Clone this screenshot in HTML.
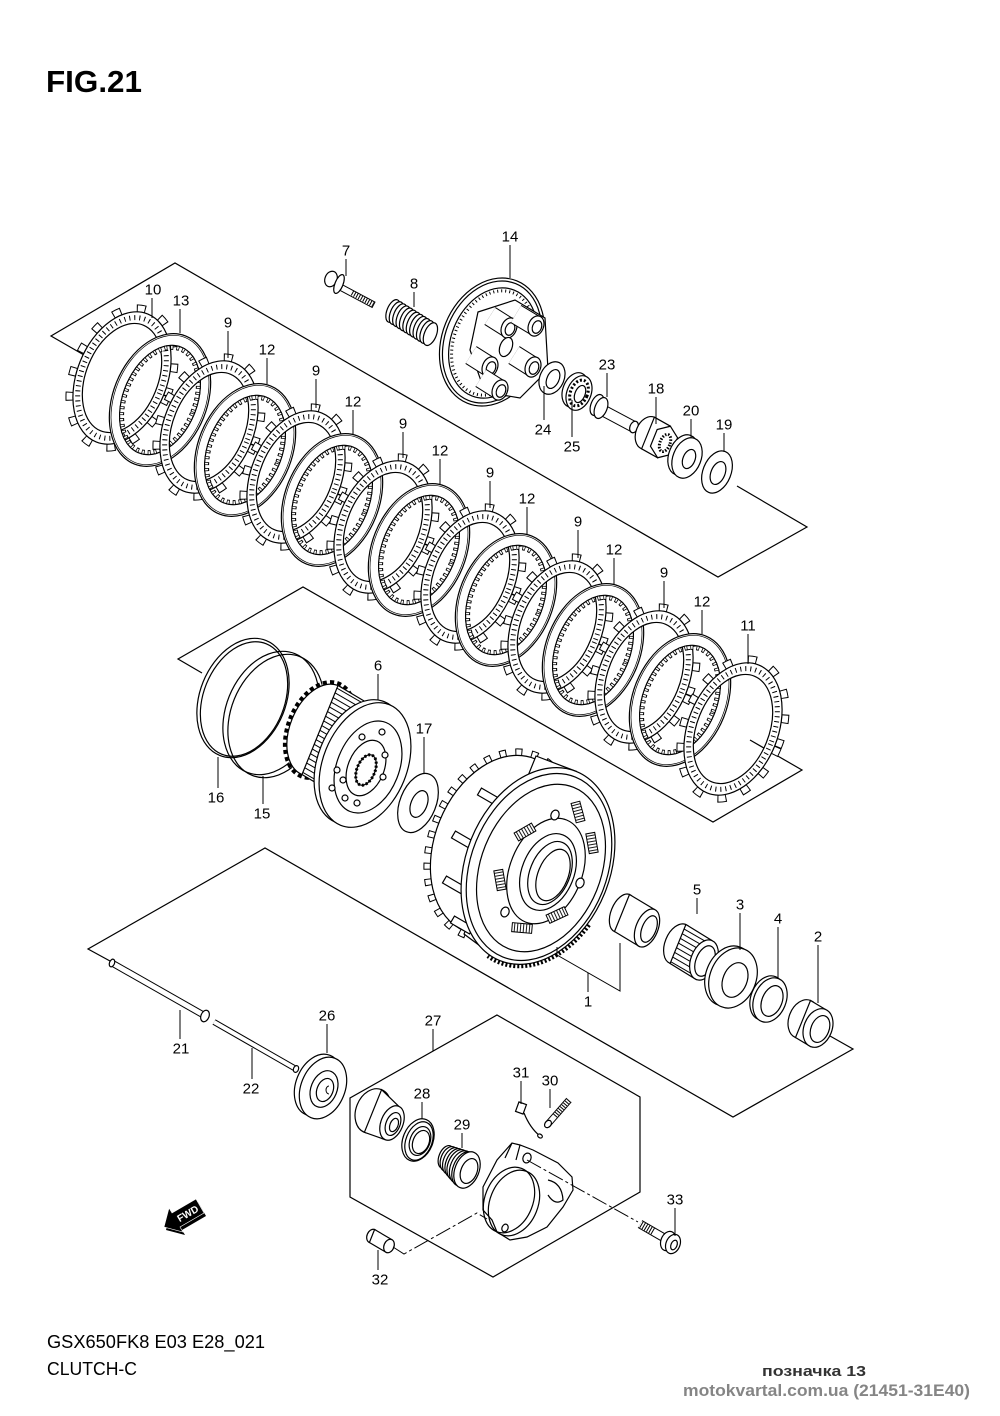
<!DOCTYPE html>
<html><head><meta charset="utf-8"><style>
html,body{margin:0;padding:0;background:#fff}
svg{display:block}
.s{fill:none;stroke:#000;stroke-width:1.2}
.w{fill:#fff;stroke:#000;stroke-width:1.2}
.l{fill:none;stroke:#000;stroke-width:1}
.t{font-family:"Liberation Sans",Arial,sans-serif;font-size:15px;fill:#000;text-anchor:middle}
</style></head><body>
<svg width="1000" height="1416" viewBox="0 0 1000 1416" xmlns="http://www.w3.org/2000/svg" xmlns:xlink="http://www.w3.org/1999/xlink">
<defs>
<pattern id="st" width="5" height="5" patternUnits="userSpaceOnUse" patternTransform="rotate(30)"><rect width="5" height="5" fill="#fff"/><line x1="0" y1="2.5" x2="5" y2="2.5" stroke="#000" stroke-width="1"/></pattern>
<pattern id="hat" width="3" height="3" patternUnits="userSpaceOnUse"><rect width="3" height="3" fill="#fff"/><line x1="1.5" y1="0" x2="1.5" y2="3" stroke="#000" stroke-width="0.9"/></pattern>
<g id="fib">
 <ellipse rx="48.5" ry="72.5" fill="none" stroke="#000" stroke-width="8" stroke-dasharray="9 16"/>
 <ellipse rx="48.5" ry="72.5" fill="none" stroke="#fff" stroke-width="6" stroke-dasharray="7 18" stroke-dashoffset="-1"/>
 <path d="M0,-69 A45,69 0 1,0 0,69 A45,69 0 1,0 0,-69 Z M0,-57 A36,57 0 1,0 0,57 A36,57 0 1,0 0,-57 Z" fill="#fff" fill-rule="evenodd" stroke="#000" stroke-width="1.2"/>
 <ellipse rx="40.5" ry="63" fill="none" stroke="#000" stroke-width="5" stroke-dasharray="1 4"/>
</g>
<g id="stl">
 <path d="M0,-69 A47,69 0 1,0 0,69 A47,69 0 1,0 0,-69 Z M0,-57 A37,57 0 1,0 0,57 A37,57 0 1,0 0,-57 Z" fill="#fff" fill-rule="evenodd" stroke="#000" stroke-width="1.2"/>
 <ellipse rx="45.3" ry="67.3" fill="none" stroke="#000" stroke-width="0.7"/>
 <ellipse rx="35" ry="55" fill="none" stroke="#000" stroke-width="5" stroke-dasharray="3 3"/>
 <ellipse rx="35" ry="55" fill="none" stroke="#fff" stroke-width="3" stroke-dasharray="1.5 4.5" stroke-dashoffset="-0.75"/>
</g>
</defs>

<!-- title -->
<text x="46" y="92" font-family="Liberation Sans, Arial, sans-serif" font-size="31" font-weight="bold" textLength="96" lengthAdjust="spacingAndGlyphs">FIG.21</text>

<!-- frame lines -->
<g class="s" stroke-linejoin="miter">
 <polyline points="84,355 51,336 175,263 718,577 807,527 737,486"/>
 <polyline points="202,673 178,659 303,587 713,822 802,770 750,740"/>
 <polyline points="110,961 88,949 265,848 733,1117 853,1049 830,1036"/>
 <polygon points="497,1015 640,1097 640,1192 493,1277 350,1197 350,1098"/>
</g>

<!-- clutch plates -->
<use href="#fib" xlink:href="#fib" transform="translate(122,378) rotate(22)"/>
<use href="#stl" xlink:href="#stl" transform="translate(160,400) rotate(22)"/>
<use href="#fib" xlink:href="#fib" transform="translate(209,427) rotate(22)"/>
<use href="#stl" xlink:href="#stl" transform="translate(245,450) rotate(22)"/>
<use href="#fib" xlink:href="#fib" transform="translate(296,477) rotate(22)"/>
<use href="#stl" xlink:href="#stl" transform="translate(332,500) rotate(22)"/>
<use href="#fib" xlink:href="#fib" transform="translate(383,527) rotate(22)"/>
<use href="#stl" xlink:href="#stl" transform="translate(419,550) rotate(22)"/>
<use href="#fib" xlink:href="#fib" transform="translate(470,577) rotate(22)"/>
<use href="#stl" xlink:href="#stl" transform="translate(506,600) rotate(22)"/>
<use href="#fib" xlink:href="#fib" transform="translate(557,627) rotate(22)"/>
<use href="#stl" xlink:href="#stl" transform="translate(593,650) rotate(22)"/>
<use href="#fib" xlink:href="#fib" transform="translate(644,677) rotate(22)"/>
<use href="#stl" xlink:href="#stl" transform="translate(680,700) rotate(22)"/>
<use href="#fib" xlink:href="#fib" transform="translate(733,729) rotate(22)"/>

<!-- bolt 7 -->
<g>
 <line x1="342" y1="288" x2="374" y2="305" stroke="#000" stroke-width="7"/>
 <line x1="342" y1="288" x2="373" y2="304.5" stroke="#fff" stroke-width="5"/>
 <line x1="352" y1="293" x2="373" y2="304.5" stroke="#000" stroke-width="5" stroke-dasharray="1 1.6"/>
 <ellipse class="w" transform="translate(331,279) rotate(22)" rx="6" ry="8"/>
 <ellipse class="w" transform="translate(339,284) rotate(22)" rx="4" ry="10"/>
</g>
<!-- spring 8 -->
<g class="w" stroke-width="1">
 <ellipse transform="translate(393,311) rotate(22)" rx="6" ry="12"/>
 <ellipse transform="translate(396.4,313.1) rotate(22)" rx="6" ry="12"/>
 <ellipse transform="translate(399.8,315.2) rotate(22)" rx="6" ry="12"/>
 <ellipse transform="translate(403.2,317.3) rotate(22)" rx="6" ry="12"/>
 <ellipse transform="translate(406.6,319.4) rotate(22)" rx="6" ry="12"/>
 <ellipse transform="translate(410,321.5) rotate(22)" rx="6" ry="12"/>
 <ellipse transform="translate(413.4,323.6) rotate(22)" rx="6" ry="12"/>
 <ellipse transform="translate(416.8,325.7) rotate(22)" rx="6" ry="12"/>
 <ellipse transform="translate(420.2,327.8) rotate(22)" rx="6" ry="12"/>
 <ellipse transform="translate(423.6,329.9) rotate(22)" rx="6" ry="12"/>
 <ellipse transform="translate(427,332) rotate(22)" rx="6" ry="12"/>
 <ellipse transform="translate(430.4,334.1) rotate(22)" rx="6" ry="12"/>
</g>

<!-- pressure plate 14 -->
<g>
 <ellipse class="w" transform="translate(492,342) rotate(22)" rx="50" ry="66"/>
 <ellipse class="s" stroke-width="0.7" transform="translate(492,342) rotate(22)" rx="47" ry="63"/>
 <ellipse class="s" transform="translate(493,343) rotate(22)" rx="42" ry="57"/>
 <ellipse fill="none" stroke="#000" stroke-width="3" stroke-dasharray="1 3" transform="translate(493,343) rotate(22)" rx="39" ry="54"/>
 <polygon class="w" points="478,312 515,300 545,318 548,370 520,398 485,392 470,350"/>
 <g stroke-linecap="butt">
  <line x1="490" y1="316" x2="509" y2="328" stroke="#000" stroke-width="21"/><line x1="490" y1="316" x2="509" y2="328" stroke="#fff" stroke-width="19"/>
  <ellipse class="w" transform="translate(509,328) rotate(22)" rx="7.5" ry="10.5"/><ellipse class="s" transform="translate(510,329) rotate(22)" rx="4.5" ry="6.5"/>
  <line x1="516" y1="314" x2="536" y2="326" stroke="#000" stroke-width="21"/><line x1="516" y1="314" x2="536" y2="326" stroke="#fff" stroke-width="19"/>
  <ellipse class="w" transform="translate(536,326) rotate(22)" rx="7.5" ry="10.5"/><ellipse class="s" transform="translate(537,327) rotate(22)" rx="4.5" ry="6.5"/>
  <ellipse class="w" transform="translate(506,347) rotate(22)" rx="6" ry="10"/>
  <line x1="471" y1="355" x2="490" y2="367" stroke="#000" stroke-width="21"/><line x1="471" y1="355" x2="490" y2="367" stroke="#fff" stroke-width="19"/>
  <ellipse class="w" transform="translate(490,367) rotate(22)" rx="7.5" ry="10.5"/><ellipse class="s" transform="translate(491,368) rotate(22)" rx="4.5" ry="6.5"/>
  <line x1="514" y1="355" x2="533" y2="367" stroke="#000" stroke-width="21"/><line x1="514" y1="355" x2="533" y2="367" stroke="#fff" stroke-width="19"/>
  <ellipse class="w" transform="translate(533,367) rotate(22)" rx="7.5" ry="10.5"/><ellipse class="s" transform="translate(534,368) rotate(22)" rx="4.5" ry="6.5"/>
  <line x1="481" y1="378" x2="500" y2="390" stroke="#000" stroke-width="21"/><line x1="481" y1="378" x2="500" y2="390" stroke="#fff" stroke-width="19"/>
  <ellipse class="w" transform="translate(500,390) rotate(22)" rx="7.5" ry="10.5"/><ellipse class="s" transform="translate(501,391) rotate(22)" rx="4.5" ry="6.5"/>
 </g>
</g>
<!-- 24 washer -->
<ellipse class="w" transform="translate(552,378) rotate(25)" rx="12" ry="17"/>
<ellipse class="s" transform="translate(553,379) rotate(25)" rx="6" ry="10"/>
<!-- 25 bearing -->
<ellipse class="w" transform="translate(575,390) rotate(22)" rx="12" ry="18"/>
<ellipse class="w" transform="translate(579,393) rotate(22)" rx="12" ry="18"/>
<ellipse fill="none" stroke="#000" stroke-width="3" stroke-dasharray="2 2" transform="translate(579,393) rotate(22)" rx="8.5" ry="13.5"/>
<ellipse class="w" transform="translate(580,394) rotate(22)" rx="5" ry="9"/>
<!-- 23 bolt -->
<line x1="604" y1="411" x2="634" y2="427" stroke="#000" stroke-width="12"/>
<line x1="604" y1="411" x2="634" y2="427" stroke="#fff" stroke-width="10"/>
<ellipse class="w" transform="translate(634,427) rotate(22)" rx="4" ry="6"/>
<ellipse class="w" transform="translate(597,405) rotate(22)" rx="6" ry="11"/>
<ellipse class="w" transform="translate(601,408) rotate(22)" rx="6" ry="11"/>
<!-- 18 nut -->
<ellipse class="w" transform="translate(648,433) rotate(22)" rx="12" ry="17"/>
<polygon class="w" points="654.4,417.2 670.4,426.2 657.6,457.8 641.6,448.8"/>
<polygon class="w" transform="translate(664,442) rotate(22)" points="0,-17 11,-9 11,9 0,17 -11,9 -11,-9"/>
<ellipse fill="none" stroke="#000" stroke-width="3" stroke-dasharray="1.5 1.5" transform="translate(665,443) rotate(22)" rx="5" ry="9"/>
<!-- 20 washer -->
<ellipse class="w" transform="translate(683,455) rotate(22)" rx="14" ry="21"/>
<ellipse class="w" transform="translate(687,458) rotate(22)" rx="14" ry="21"/>
<ellipse class="s" transform="translate(689,459) rotate(22)" rx="6" ry="10"/>
<!-- 19 washer -->
<ellipse class="w" transform="translate(717,472) rotate(22)" rx="14" ry="22"/>
<ellipse class="s" transform="translate(718,473) rotate(22)" rx="7" ry="12"/>

<!-- rings 16 and 15 -->
<ellipse class="s" transform="translate(243,698) rotate(22)" rx="43" ry="62"/>
<ellipse class="s" stroke-width="0.9" transform="translate(244,699) rotate(22)" rx="40.5" ry="59.5"/>
<ellipse class="s" transform="translate(271,713) rotate(22)" rx="45" ry="64"/>
<ellipse class="s" transform="translate(276,716) rotate(22)" rx="45" ry="64"/>

<!-- 6 hub -->
<g>
 <ellipse fill="#fff" stroke="#000" stroke-width="6" stroke-dasharray="4 3" transform="translate(320,730) rotate(22)" rx="31" ry="49"/>
 <ellipse class="w" transform="translate(320,730) rotate(22)" rx="30" ry="48"/>
 <polygon points="338,685.5 370,704.5 334,793.5 302,774.5" fill="url(#st)" stroke="#000" stroke-width="1.2"/>
 <ellipse class="w" transform="translate(360,762) rotate(22)" rx="42" ry="65"/>
 <ellipse class="w" transform="translate(365,765) rotate(22)" rx="42" ry="65"/>
 <ellipse class="s" transform="translate(368,767) rotate(22)" rx="31" ry="48"/>
 <ellipse class="s" transform="translate(366,768) rotate(22)" rx="18" ry="29"/>
 <ellipse class="w" transform="translate(366,770) rotate(22)" rx="9" ry="16"/>
 <ellipse fill="none" stroke="#000" stroke-width="3" stroke-dasharray="2 2" transform="translate(366,770) rotate(22)" rx="9" ry="16"/>
 <g class="w" stroke-width="0.9">
  <circle cx="382" cy="732" r="3"/><circle cx="362" cy="737" r="3"/><circle cx="385" cy="755" r="3"/>
  <circle cx="337" cy="770" r="3"/><circle cx="343" cy="780" r="3"/><circle cx="332" cy="788" r="3"/>
  <circle cx="345" cy="798" r="3"/><circle cx="357" cy="803" r="3"/><circle cx="383" cy="777" r="3"/>
 </g>
</g>
<!-- 17 washer -->
<ellipse class="w" transform="translate(418,803) rotate(22)" rx="18" ry="31"/>
<ellipse class="s" transform="translate(419,804) rotate(22)" rx="8" ry="14"/>

<!-- clutch housing -->
<g>
 <ellipse fill="none" stroke="#000" stroke-width="8" stroke-dasharray="7 9" transform="translate(500,845) rotate(22)" rx="68" ry="96"/>
 <ellipse fill="none" stroke="#fff" stroke-width="6" stroke-dasharray="5 11" stroke-dashoffset="-1" transform="translate(500,845) rotate(22)" rx="68" ry="96"/>
 <ellipse class="w" transform="translate(500,845) rotate(22)" rx="65" ry="93"/>
 <polygon class="w" points="536,756 576.3,771.4 499.7,960.6 464,934"/>
 <g class="w" stroke-width="1">
  <rect x="-11" y="-4" width="22" height="8" transform="translate(489,797) rotate(30)"/>
  <rect x="-11" y="-4" width="22" height="8" transform="translate(463,840) rotate(30)"/>
  <rect x="-11" y="-4" width="22" height="8" transform="translate(454,885) rotate(30)"/>
  <rect x="-11" y="-4" width="22" height="8" transform="translate(462,925) rotate(30)"/>
 </g>
 <g transform="translate(538,866) rotate(22)">
  <path d="M69.5,35.6 A74,104 0 0,1 -12.85,102.4" fill="none" stroke="#000" stroke-width="4" stroke-dasharray="2 2"/>
 </g>
 <ellipse class="w" transform="translate(538,866) rotate(22)" rx="72" ry="102"/>
 <ellipse class="s" stroke-width="0.8" transform="translate(539,867) rotate(22)" rx="68" ry="97"/>
 <ellipse class="s" transform="translate(541,868) rotate(22)" rx="60" ry="87"/>
 <ellipse class="s" transform="translate(546,871) rotate(22)" rx="36" ry="55"/>
 <g fill="url(#hat)" stroke="#000" stroke-width="1">
  <rect x="-10" y="-4.5" width="20" height="9" transform="translate(525,832) rotate(-30)"/>
  <rect x="-10" y="-4.5" width="20" height="9" transform="translate(578,812) rotate(75)"/>
  <rect x="-10" y="-4.5" width="20" height="9" transform="translate(592,843) rotate(80)"/>
  <rect x="-10" y="-4.5" width="20" height="9" transform="translate(500,880) rotate(80)"/>
  <rect x="-10" y="-4.5" width="20" height="9" transform="translate(557,915) rotate(-25)"/>
  <rect x="-10" y="-4.5" width="20" height="9" transform="translate(522,928) rotate(5)"/>
 </g>
 <ellipse class="w" transform="translate(555,815) rotate(22)" rx="4" ry="5"/>
 <ellipse class="w" transform="translate(580,883) rotate(22)" rx="4" ry="5"/>
 <ellipse class="w" transform="translate(505,912) rotate(22)" rx="4" ry="5"/>
 <ellipse class="w" transform="translate(548,872) rotate(22)" rx="26" ry="40"/>
 <ellipse class="s" transform="translate(550,873) rotate(22)" rx="20" ry="33"/>
 <ellipse class="w" transform="translate(553,875) rotate(22)" rx="15" ry="27"/>
</g>
<!-- bracket 1 -->
<polyline class="l" points="557,947 557,955 620,991 620,943"/>

<!-- sleeve (1) -->
<ellipse class="w" transform="translate(622,913) rotate(22)" rx="11" ry="20"/>
<polygon class="w" points="629.5,894.5 654.5,909.5 639.5,946.5 614.5,931.5"/>
<ellipse class="w" transform="translate(647,928) rotate(22)" rx="11" ry="20"/>
<ellipse class="s" stroke-width="0.8" transform="translate(649,929) rotate(22)" rx="7" ry="14"/>
<!-- 5 needle bearing -->
<ellipse class="w" transform="translate(678,944) rotate(22)" rx="13" ry="21"/>
<polygon points="685.9,924.5 711.9,940.5 696.1,979.5 670.1,963.5" fill="url(#st)" stroke="#000" stroke-width="1.2"/>
<ellipse class="w" transform="translate(704,960) rotate(22)" rx="13" ry="21"/>
<ellipse class="w" transform="translate(705,961) rotate(22)" rx="9" ry="16"/>
<!-- 3 washer -->
<ellipse class="w" transform="translate(729,976) rotate(22)" rx="23" ry="31"/>
<ellipse class="w" transform="translate(733,978) rotate(22)" rx="23" ry="31"/>
<ellipse class="s" transform="translate(735,980) rotate(22)" rx="12" ry="18"/>
<!-- 4 washer -->
<ellipse class="w" transform="translate(767,998) rotate(22)" rx="16" ry="23"/>
<ellipse class="w" transform="translate(770,1000) rotate(22)" rx="16" ry="23"/>
<ellipse class="s" transform="translate(772,1001) rotate(22)" rx="10" ry="16"/>
<!-- 2 collar -->
<ellipse class="w" transform="translate(803,1019) rotate(22)" rx="14" ry="20"/>
<polygon class="w" points="810.5,1000.5 825.5,1009.5 810.5,1046.5 795.5,1037.5"/>
<ellipse class="w" transform="translate(818,1028) rotate(22)" rx="14" ry="20"/>
<ellipse class="s" stroke-width="0.8" transform="translate(820,1029) rotate(22)" rx="9" ry="14"/>

<!-- shafts 21, 22 -->
<line x1="112" y1="963" x2="207" y2="1017" stroke="#000" stroke-width="7"/>
<line x1="112" y1="963" x2="207" y2="1017" stroke="#fff" stroke-width="5"/>
<ellipse class="w" transform="translate(112,963) rotate(22)" rx="2.5" ry="4"/>
<ellipse class="w" transform="translate(205,1016) rotate(22)" rx="4" ry="6"/>
<line x1="214" y1="1022" x2="296" y2="1069" stroke="#000" stroke-width="6"/>
<line x1="214" y1="1022" x2="296" y2="1069" stroke="#fff" stroke-width="4"/>
<ellipse class="w" transform="translate(296,1069) rotate(22)" rx="2.5" ry="3.5"/>
<!-- 26 -->
<ellipse class="w" transform="translate(318,1085) rotate(22)" rx="22" ry="32"/>
<ellipse class="w" transform="translate(323,1088) rotate(22)" rx="22" ry="32"/>
<ellipse class="s" transform="translate(324,1089) rotate(22)" rx="13" ry="19"/>
<ellipse class="s" transform="translate(325,1090) rotate(22)" rx="8" ry="12"/>
<path class="l" d="M329,1086 A3,4 0 1,0 329,1094"/>

<!-- box 27 contents -->
<ellipse class="w" transform="translate(373,1111) rotate(22)" rx="17" ry="23"/>
<polygon class="w" points="381.6,1089.7 398.75,1106.3 385.25,1139.7 364.4,1132.3"/>
<ellipse class="w" transform="translate(392,1123) rotate(22)" rx="11" ry="18"/>
<ellipse class="s" transform="translate(393,1124) rotate(22)" rx="7" ry="12"/>
<ellipse class="s" transform="translate(394,1125) rotate(22)" rx="4" ry="7"/>
<!-- 28 -->
<ellipse class="w" transform="translate(418,1140) rotate(22)" rx="15" ry="22"/>
<ellipse class="s" transform="translate(419,1141) rotate(22)" rx="13" ry="20"/>
<ellipse class="w" transform="translate(420,1141) rotate(22)" rx="10" ry="15"/>
<ellipse class="s" transform="translate(421,1142) rotate(22)" rx="8" ry="12"/>
<!-- 29 boot -->
<g class="w" stroke-width="1">
 <ellipse transform="translate(446,1157) rotate(22)" rx="7" ry="12"/>
 <ellipse transform="translate(449,1159) rotate(22)" rx="8" ry="13"/>
 <ellipse transform="translate(452,1161) rotate(22)" rx="8.5" ry="14"/>
 <ellipse transform="translate(455,1163) rotate(22)" rx="9" ry="15"/>
 <ellipse transform="translate(458,1165) rotate(22)" rx="10" ry="16"/>
 <ellipse transform="translate(461,1167) rotate(22)" rx="10.5" ry="17"/>
 <ellipse transform="translate(464,1169) rotate(22)" rx="11" ry="18"/>
 <ellipse transform="translate(467,1170) rotate(22)" rx="12" ry="19"/>
 <ellipse transform="translate(469,1171) rotate(22)" rx="8" ry="13"/>
</g>
<!-- slave cylinder body -->
<path class="w" d="M483,1187 L497,1160 L512,1143 L520,1145 L533,1150 L558,1163 L572,1177 L573,1190 L563,1207 L547,1227 L527,1237 L510,1240 L497,1232 L492,1220 L483,1210 Z"/>
<ellipse class="s" transform="translate(509,1200) rotate(22)" rx="24" ry="34"/>
<ellipse class="s" transform="translate(514,1203) rotate(22)" rx="24" ry="34"/>
<path class="s" d="M548,1180 Q562,1183 563,1200 Q555,1206 548,1195"/>
<path class="s" d="M505,1158 L512,1143 M520,1145 L516,1160"/>
<ellipse class="w" transform="translate(527,1158) rotate(22)" rx="4" ry="5"/>
<ellipse class="w" transform="translate(505,1228) rotate(22)" rx="3" ry="4"/>
<!-- 31 clip -->
<rect class="w" x="-4" y="-5" width="8" height="10" transform="translate(521,1108) rotate(20)"/>
<path class="s" d="M524,1113 Q530,1128 540,1136" stroke-width="1.5"/>
<ellipse class="w" transform="translate(540,1136) rotate(30)" rx="2.5" ry="1.8"/>
<!-- 30 bleeder -->
<line x1="548" y1="1124" x2="569" y2="1100" stroke="#000" stroke-width="7"/>
<line x1="548" y1="1124" x2="569" y2="1100" stroke="#fff" stroke-width="5"/>
<line x1="555" y1="1116" x2="569" y2="1100" stroke="#000" stroke-width="5" stroke-dasharray="1 1.5"/>
<ellipse class="w" transform="translate(548,1124) rotate(40)" rx="3" ry="4"/>
<!-- 33 bolt -->
<line x1="640" y1="1224" x2="666" y2="1239" stroke="#000" stroke-width="9"/>
<line x1="640" y1="1224" x2="666" y2="1239" stroke="#fff" stroke-width="7"/>
<line x1="641" y1="1224.5" x2="654" y2="1232" stroke="#000" stroke-width="7" stroke-dasharray="1 1.6"/>
<ellipse class="w" transform="translate(668,1241) rotate(22)" rx="7" ry="10"/>
<ellipse class="w" transform="translate(673,1244) rotate(22)" rx="7" ry="10"/>
<ellipse class="s" transform="translate(674,1245) rotate(22)" rx="3" ry="5"/>
<!-- 32 dowel -->
<ellipse class="w" transform="translate(372,1236) rotate(22)" rx="5" ry="7"/>
<polygon class="w" points="374.6,1229.5 391.6,1239.5 386.4,1252.5 369.4,1242.5"/>
<ellipse class="w" transform="translate(389,1246) rotate(22)" rx="5" ry="7"/>
<!-- center lines -->
<polyline class="l" points="393,1247 404,1254 477,1213 487,1219" stroke-dasharray="16 3 3 3"/>
<line class="l" x1="527" y1="1160" x2="638" y2="1222" stroke-dasharray="16 3 3 3"/>

<!-- FWD arrow -->
<polygon points="166,1230 171,1211 174,1216 198,1202 206,1216 182,1230 185,1235" fill="#000"/>
<polygon points="164,1227 169,1208 172,1213 196,1199 204,1213 180,1227 183,1232" fill="#000" stroke="#fff" stroke-width="0.6"/>
<text x="188" y="1217" transform="rotate(-30 188 1214)" font-family="Liberation Sans, Arial, sans-serif" font-size="10" font-weight="bold" fill="#fff" text-anchor="middle">FWD</text>

<!-- leader lines -->
<g class="l">
 <line x1="346" y1="259" x2="346" y2="276"/><line x1="414" y1="292" x2="414" y2="307"/>
 <line x1="510" y1="245" x2="510" y2="278"/><line x1="152" y1="298" x2="152" y2="318"/>
 <line x1="180" y1="309" x2="180" y2="333"/>
 <line x1="228" y1="331" x2="228" y2="358"/><line x1="267" y1="358" x2="267" y2="384"/>
 <line x1="316" y1="379" x2="316" y2="408"/><line x1="353" y1="410" x2="353" y2="434"/>
 <line x1="403" y1="432" x2="403" y2="458"/><line x1="440" y1="459" x2="440" y2="484"/>
 <line x1="490" y1="481" x2="490" y2="508"/><line x1="527" y1="507" x2="527" y2="534"/>
 <line x1="578" y1="530" x2="578" y2="558"/><line x1="614" y1="558" x2="614" y2="584"/>
 <line x1="664" y1="581" x2="664" y2="608"/><line x1="702" y1="610" x2="702" y2="634"/>
 <line x1="748" y1="634" x2="748" y2="664"/>
 <line x1="607" y1="373" x2="607" y2="397"/><line x1="656" y1="397" x2="656" y2="424"/>
 <line x1="691" y1="419" x2="691" y2="438"/><line x1="724" y1="433" x2="724" y2="452"/>
 <line x1="544" y1="386" x2="544" y2="420"/><line x1="572" y1="400" x2="572" y2="437"/>
 <line x1="378" y1="674" x2="378" y2="700"/><line x1="424" y1="737" x2="424" y2="773"/>
 <line x1="218" y1="757" x2="218" y2="788"/><line x1="263" y1="776" x2="263" y2="804"/>
 <line x1="588" y1="973" x2="588" y2="992"/><line x1="697" y1="898" x2="697" y2="914"/>
 <line x1="740" y1="913" x2="740" y2="950"/><line x1="778" y1="927" x2="778" y2="978"/>
 <line x1="818" y1="945" x2="818" y2="1003"/><line x1="180" y1="1010" x2="180" y2="1039"/>
 <line x1="252" y1="1048" x2="252" y2="1079"/><line x1="327" y1="1024" x2="327" y2="1053"/>
 <line x1="433" y1="1029" x2="433" y2="1051"/><line x1="422" y1="1102" x2="422" y2="1119"/>
 <line x1="462" y1="1133" x2="462" y2="1148"/><line x1="521" y1="1081" x2="521" y2="1104"/>
 <line x1="550" y1="1089" x2="550" y2="1108"/><line x1="675" y1="1208" x2="675" y2="1236"/>
 <line x1="378" y1="1250" x2="378" y2="1270"/>
</g>

<!-- labels -->
<g class="t">
 <text x="346" y="255.5">7</text><text x="414" y="288.5">8</text><text x="510" y="241.5">14</text>
 <text x="153" y="294.5">10</text><text x="181" y="305.5">13</text>
 <text x="228" y="327.5">9</text><text x="267" y="354.5">12</text>
 <text x="316" y="375.5">9</text><text x="353" y="406.5">12</text>
 <text x="403" y="428.5">9</text><text x="440" y="455.5">12</text>
 <text x="490" y="477.5">9</text><text x="527" y="503.5">12</text>
 <text x="578" y="526.5">9</text><text x="614" y="554.5">12</text>
 <text x="664" y="577.5">9</text><text x="702" y="606.5">12</text>
 <text x="748" y="630.5">11</text>
 <text x="607" y="369.5">23</text><text x="656" y="393.5">18</text><text x="691" y="415.5">20</text>
 <text x="724" y="429.5">19</text><text x="543" y="434.5">24</text><text x="572" y="451.5">25</text>
 <text x="378" y="670.5">6</text><text x="424" y="733.5">17</text>
 <text x="216" y="802.5">16</text><text x="262" y="818.5">15</text>
 <text x="588" y="1006.5">1</text><text x="697" y="894.5">5</text><text x="740" y="909.5">3</text>
 <text x="778" y="923.5">4</text><text x="818" y="941.5">2</text>
 <text x="181" y="1053.5">21</text><text x="251" y="1093.5">22</text><text x="327" y="1020.5">26</text>
 <text x="433" y="1025.5">27</text><text x="422" y="1098.5">28</text><text x="462" y="1129.5">29</text>
 <text x="521" y="1077.5">31</text><text x="550" y="1085.5">30</text><text x="675" y="1204.5">33</text>
 <text x="380" y="1284.5">32</text>
</g>

<!-- footer texts -->
<text x="47" y="1348" font-family="Liberation Sans, Arial, sans-serif" font-size="18" textLength="218" lengthAdjust="spacingAndGlyphs">GSX650FK8 E03 E28_021</text>
<text x="47" y="1375" font-family="Liberation Sans, Arial, sans-serif" font-size="18" textLength="90" lengthAdjust="spacingAndGlyphs">CLUTCH-C</text>
<text x="762" y="1376" font-family="Liberation Sans, Arial, sans-serif" font-size="15" font-weight="bold" fill="#333" textLength="104" lengthAdjust="spacingAndGlyphs">позначка 13</text>
<text x="683" y="1396" font-family="Liberation Sans, Arial, sans-serif" font-size="17" font-weight="bold" fill="#858585" textLength="287" lengthAdjust="spacingAndGlyphs">motokvartal.com.ua (21451-31E40)</text>
</svg>
</body></html>
